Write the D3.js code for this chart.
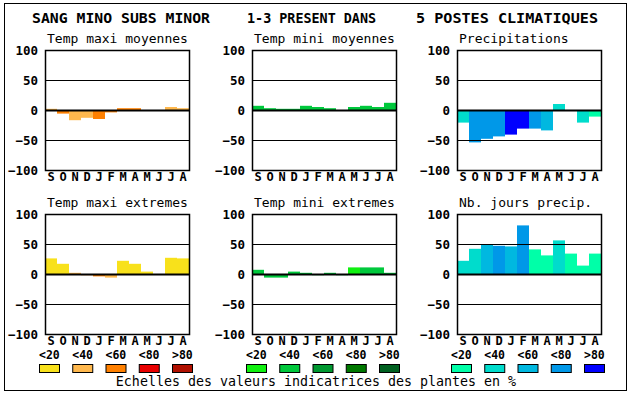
<!DOCTYPE html>
<html>
<head>
<meta charset="utf-8">
<script src="https://cdn.jsdelivr.net/npm/d3@7"></script>
<style>
body { margin: 0; background: #fff; }
text { font-family: "DejaVu Sans Mono", monospace; fill: #000; }
</style>
</head>
<body>
<script>
var months = ["S","O","N","D","J","F","M","A","M","J","J","A"];
var yTicks = [100, 50, 0, -50, -100];
var scaleLabels = ["<20","<40","<60","<80",">80"];

var titleParts = ["SANG MINO SUBS MINOR", "1-3 PRESENT DANS", "5 POSTES CLIMATIQUES"];
var panelTitles = ["Temp maxi moyennes", "Temp mini moyennes", "Precipitations",
                   "Temp maxi extremes", "Temp mini extremes", "Nb. jours precip."];

var orangeScale = ["#f8e11b", "#ffb84d", "#ff8000", "#e80000", "#b01000"];
var greenScale  = ["#10f010", "#00c83c", "#009830", "#007800", "#006020"];
var blueScale   = ["#00ffa8", "#00dccc", "#00b8e0", "#0098e8", "#0000ff"];

// values per month (S..A) and colour class (0..4)
var maxiMoy     = [2, -6, -17, -13, -15, -4, 3, 3, 0, 0, 5, 3];
var maxiMoyCls  = [1, 2, 1, 1, 2, 2, 2, 2, 0, 0, 1, 1];
var miniMoy     = [7, 3, 2, 2, 7, 5, 3, 0, 5, 7, 5, 12];
var miniMoyCls  = [1, 1, 1, 1, 1, 1, 1, 1, 1, 1, 1, 1];
var precip      = [-21, -54, -48, -44, -41, -31, -31, -34, 10, 0, -21, -11];
var precipCls   = [1, 3, 3, 3, 4, 4, 3, 2, 1, 1, 1, 0];
var maxiExt     = [26, 17, 2, -2, -4, -6, 22, 17, 4, 0, 27, 26];
var maxiExtCls  = [0, 0, 1, 2, 2, 1, 0, 0, 0, 0, 0, 0];
var miniExt     = [7, -6, -6, 4, 2, -2, 2, -2, 11, 11, 11, 2];
var miniExtCls  = [1, 1, 1, 1, 1, 1, 1, 1, 0, 1, 1, 1];
var joursPrec   = [22, 42, 49, 47, 46, 81, 41, 31, 56, 34, 14, 34];
var joursPrecCls= [1, 1, 2, 3, 2, 3, 0, 0, 1, 0, 0, 0];

var panels = [
  {title: panelTitles[0], values: maxiMoy,   cls: maxiMoyCls,   colors: orangeScale, col: 0, row: 0},
  {title: panelTitles[1], values: miniMoy,   cls: miniMoyCls,   colors: greenScale,  col: 1, row: 0},
  {title: panelTitles[2], values: precip,    cls: precipCls,    colors: blueScale,   col: 2, row: 0},
  {title: panelTitles[3], values: maxiExt,   cls: maxiExtCls,   colors: orangeScale, col: 0, row: 1},
  {title: panelTitles[4], values: miniExt,   cls: miniExtCls,   colors: greenScale,  col: 1, row: 1},
  {title: panelTitles[5], values: joursPrec, cls: joursPrecCls, colors: blueScale,   col: 2, row: 1}
];

var width = 630, height = 394;
var colX = [45, 252, 457];
var rowY = [50, 214];
var pw = 144, ph = 120;

var svg = d3.select("body").append("svg")
    .attr("width", width)
    .attr("height", height);

// outer frame
svg.append("rect")
    .attr("x", 4.5).attr("y", 3.5)
    .attr("width", 622).attr("height", 387)
    .attr("fill", "none").attr("stroke", "#000");

// main title
var titleX = [32, 247, 416];
var titleW = [178, 129, 182];
titleParts.forEach(function(t, i) {
  svg.append("text")
      .attr("x", titleX[i]).attr("y", 23)
      .attr("font-size", 14).attr("font-weight", "bold")
      .attr("textLength", titleW[i]).attr("lengthAdjust", "spacingAndGlyphs")
      .text(t);
});

var x = d3.scaleBand().domain(d3.range(12)).range([0, pw]).padding(0);
var y = d3.scaleLinear().domain([-100, 100]).range([ph, 0]);

panels.forEach(function(p) {
  var g = svg.append("g")
      .attr("transform", "translate(" + colX[p.col] + "," + rowY[p.row] + ")");

  // panel titles are left aligned
  g.append("text")
      .attr("x", 2).attr("y", -7)
      .attr("font-size", 13)
      .text(p.title);

  g.selectAll(".bar")
      .data(p.values)
      .enter().append("rect")
      .attr("class", "bar")
      .attr("x", function(d, i) { return x(i); })
      .attr("width", x.bandwidth())
      .attr("y", function(d) { return y(Math.max(0, d)); })
      .attr("height", function(d) { return Math.abs(y(d) - y(0)); })
      .attr("fill", function(d, i) { return p.colors[p.cls[i]]; });

  g.selectAll(".grid")
      .data([50, 0, -50])
      .enter().append("line")
      .attr("x1", 0).attr("x2", pw)
      .attr("y1", function(d) { return Math.round(y(d)) + 0.5; })
      .attr("y2", function(d) { return Math.round(y(d)) + 0.5; })
      .attr("stroke", "#000")
      .attr("stroke-width", function(d) { return d === 0 ? 2 : 1.2; });

  g.append("rect")
      .attr("x", 0.5).attr("y", 0.5)
      .attr("width", pw).attr("height", ph)
      .attr("fill", "none").attr("stroke", "#000").attr("stroke-width", 1.5);

  var yAxis = g.append("g")
      .attr("transform", "translate(-7,0)")
      .call(d3.axisLeft(y).tickValues(yTicks).tickSize(0).tickPadding(0));
  yAxis.select(".domain").remove();
  yAxis.selectAll("text")
      .attr("font-family", "DejaVu Sans Mono")
      .attr("font-size", 12.5).attr("font-weight", "bold")
      .attr("fill", "#000");

  var xAxis = g.append("g")
      .attr("transform", "translate(0," + ph + ")")
      .call(d3.axisBottom(x).tickSize(0).tickPadding(2)
        .tickFormat(function(i) { return months[i]; }));
  xAxis.select(".domain").remove();
  xAxis.selectAll("text")
      .attr("font-family", "DejaVu Sans Mono")
      .attr("font-size", 12).attr("font-weight", "bold")
      .attr("fill", "#000");
});

// legends
var legendX = d3.scalePoint().domain(scaleLabels).range([-6, 127]);
[orangeScale, greenScale, blueScale].forEach(function(colors, k) {
  var lg = svg.append("g").attr("transform", "translate(" + colX[k] + ",0)");
  lg.selectAll("text")
      .data(scaleLabels)
      .enter().append("text")
      .attr("x", function(d) { return legendX(d); })
      .attr("y", 359)
      .attr("font-size", 11.5).attr("font-weight", "bold")
      .text(function(d) { return d; });
  lg.selectAll("rect")
      .data(scaleLabels)
      .enter().append("rect")
      .attr("x", function(d) { return legendX(d) + 0.5; })
      .attr("y", 364.5)
      .attr("width", 20).attr("height", 8)
      .attr("fill", function(d, i) { return colors[i]; })
      .attr("stroke", "#000");
});

svg.append("text")
    .attr("x", 316).attr("y", 386)
    .attr("text-anchor", "middle")
    .attr("font-size", 13.3)
    .text("Echelles des valeurs indicatrices des plantes en %");
</script>
</body>
</html>
